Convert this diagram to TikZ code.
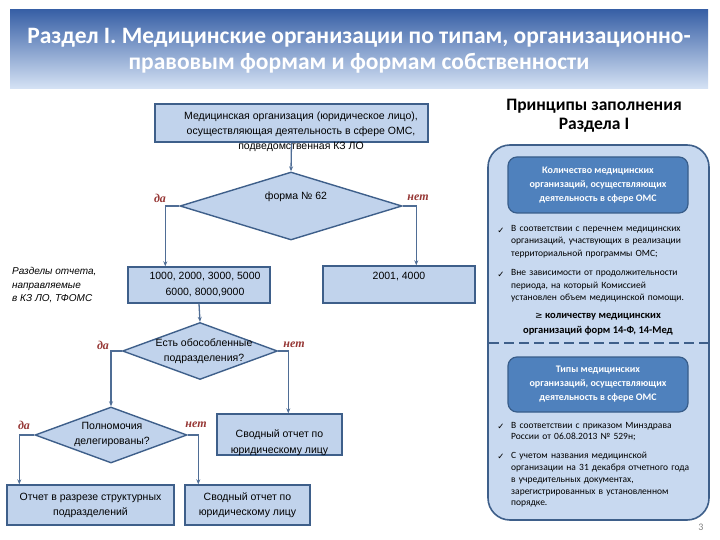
\documentclass[tikz,border=0pt]{standalone}
\usepackage{fontspec}
\setmainfont{Carlito}
\newfontfamily\fcf{Liberation Sans}
\newfontfamily\ynf{Liberation Serif}
\newfontfamily\djv{DejaVu Sans}
\usetikzlibrary{shapes.geometric,calc,arrows.meta}
\definecolor{boxfill}{RGB}{193,211,236}
\definecolor{boxline}{RGB}{62,95,138}
\definecolor{connc}{RGB}{79,109,149}
\definecolor{ynred}{RGB}{150,55,53}
\definecolor{darkbox}{RGB}{79,129,189}
\definecolor{darkline}{RGB}{56,93,138}
\definecolor{paneln}{RGB}{200,217,240}
\tikzset{
  fbox/.style={draw=boxline,fill=boxfill,line width=1.4pt,rectangle,inner sep=0pt},
  fdia/.style={draw=boxline,fill=boxfill,line width=1.4pt,diamond,inner sep=0pt},
  ftext/.style={font=\fcf\fontsize{10.5}{15}\selectfont,align=center,inner sep=0pt},
  conn/.style={draw=connc,line width=1.3pt,-{Stealth[length=5pt,width=4pt]}},
  yn/.style={font=\ynf\bfseries\itshape\fontsize{12}{12}\selectfont,text=ynred,inner sep=0pt},
  innerbox/.style={draw=darkline,fill=darkbox,line width=1.2pt,rounded corners=9pt,inner sep=0pt},
  innertext/.style={font=\bfseries\fontsize{10}{14}\selectfont,text=white,align=center,inner sep=0pt},
  bullettext/.style={font=\fontsize{9.5}{12.5}\selectfont,align=left,anchor=north west,inner sep=0pt,text width=195pt},
  chk/.style={font=\djv\fontsize{8.5}{8.5}\selectfont,inner sep=0pt}
}
\begin{document}
\begin{tikzpicture}[x=1pt,y=-1pt]
\useasboundingbox (0,0) rectangle (720,540);
% title banner
\shade[top color={rgb,255:red,56;green,96;blue,166},middle color={rgb,255:red,92;green,138;blue,208},bottom color={rgb,255:red,214;green,227;blue,245}] (10,10) rectangle (708,89);
\node[font=\bfseries\fontsize{23.5}{26}\selectfont,text=white,align=center,inner sep=0pt] (title) at (359,51) {Раздел I. Медицинские организации по типам, организационно-\\правовым формам и формам собственности};

% flowchart
\node[fbox,minimum width=273pt,minimum height=38pt] (top) at (291.5,123) {};
\node[ftext] (toptext) at (301,132) {Медицинская организация (юридическое лицо),\\осуществляющая деятельность в сфере ОМС,\\подведомственная КЗ ЛО};

\node[fdia,minimum width=222pt,minimum height=68pt] (d1) at (291,206) {};
\node[ftext] (d1text) at (296,197) {форма № 62};

\node[fbox,minimum width=142pt,minimum height=36pt] (b1) at (199,285) {};
\node[ftext,font=\fcf\fontsize{10.5}{16}\selectfont] (b1text) at (205,285) {1000, 2000, 3000, 5000\\6000, 8000,9000};

\node[fbox,minimum width=152pt,minimum height=37pt] (b2) at (399,284.5) {};
\node[ftext] (b2text) at (399,277) {2001, 4000};

\node[font=\fcf\itshape\fontsize{10}{13.5}\selectfont,align=left,anchor=west,inner sep=0pt] (note) at (12,285.5) {Разделы отчета,\\направляемые\\в КЗ ЛО, ТФОМС};

\node[fdia,minimum width=155pt,minimum height=57pt] (d2) at (200,351) {};
\node[ftext] (d2text) at (204,351) {Есть обособленные\\подразделения?};

\node[fdia,minimum width=152pt,minimum height=56pt] (d3) at (111,435) {};
\node[ftext] (d3text) at (112,434) {Полномочия\\делегированы?};

\node[fbox,minimum width=125pt,minimum height=41pt] (b3) at (279.5,434.5) {};
\node[ftext,font=\fcf\fontsize{10.5}{16}\selectfont] (b3text) at (279.5,443) {Сводный отчет по\\юридическому лицу};

\node[fbox,minimum width=167pt,minimum height=40pt] (b4) at (90.5,505) {};
\node[ftext] (b4text) at (90.5,505) {Отчет в разрезе структурных\\подразделений};

\node[fbox,minimum width=125pt,minimum height=40pt] (b5) at (247.5,505) {};
\node[ftext] (b5text) at (247.5,505) {Сводный отчет по\\юридическому лицу};

% yes/no labels
\node[yn] (y1) at (160,198) {да};
\node[yn] (n1) at (418,198) {нет};
\node[yn] (y2) at (103,345) {да};
\node[yn] (n2) at (294,345) {нет};
\node[yn] (y3) at (24,425) {да};
\node[yn] (n3) at (196,425) {нет};

% connectors
\draw[conn] (top.south) -- (d1.north);
\draw[conn] (d1.west) -| ($(b1.north west)+(38,0)$);
\draw[conn] (d1.east) -| ($(b2.north west)+(94,0)$);
\draw[conn] (b1.south) -- (d2.north);
\draw[conn] (d2.west) -| (d3.north);
\draw[conn] (d2.east) -| ($(b3.north west)+(72,0)$);
\draw[conn] (d3.west) -| ($(b4.north west)+(13,0)$);
\draw[conn] (d3.east) -| ($(b5.north west)+(14,0)$);

% right panel
\node[font=\bfseries\fontsize{17.5}{19}\selectfont,align=center,inner sep=0pt] (ptitle) at (594,116) {Принципы заполнения\\Раздела I};
\draw[draw=boxline,fill=paneln,line width=1.6pt,rounded corners=22pt] (488,145) rectangle (709,520);
\draw[draw=boxline,line width=2.4pt,dash pattern=on 10pt off 5pt] (489,343) -- (708,343);

\node[innerbox,minimum width=180pt,minimum height=56pt] (ib1) at (598,185) {};
\node[innertext] (ib1text) at (598,185) {Количество медицинских\\организаций, осуществляющих\\деятельность в сфере ОМС};

\node[chk] (c1) at (501,231) {✓};
\node[bullettext] (t1) at (511,225) {В соответствии с перечнем медицинских\\организаций, участвующих в реализации\\территориальной программы ОМС;};
\node[chk] (c2) at (501,275) {✓};
\node[bullettext] (t2) at (511,269.5) {Вне зависимости от продолжительности\\периода, на который Комиссией\\установлен объем медицинской помощи.};

\node[font=\bfseries\fontsize{10.5}{15}\selectfont,align=center,inner sep=0pt] (geq) at (598,324.5) {{\djv\mdseries\fontsize{9}{9}\selectfont ≥} количеству медицинских\\организаций форм 14-Ф, 14-Мед};

\node[innerbox,minimum width=180pt,minimum height=55pt] (ib2) at (598,384.5) {};
\node[innertext] (ib2text) at (598,384.5) {Типы медицинских\\организаций, осуществляющих\\деятельность в сфере ОМС};

\node[chk] (c3) at (501,427) {✓};
\node[bullettext,font=\fontsize{9.5}{11.5}\selectfont] (t3) at (511,422) {В соответствии с приказом Минздрава\\России от 06.08.2013 № 529н;};
\node[chk] (c4) at (501,457) {✓};
\node[bullettext,font=\fontsize{9.5}{11.8}\selectfont] (t4) at (511,452) {С учетом названия медицинской\\организации на 31 декабря отчетного года\\в учредительных документах,\\зарегистрированных в установленном\\порядке.};

\node[font=\fontsize{10}{10}\selectfont,text=gray,inner sep=0pt] (pg) at (701,527) {3};
\end{tikzpicture}
\end{document}
